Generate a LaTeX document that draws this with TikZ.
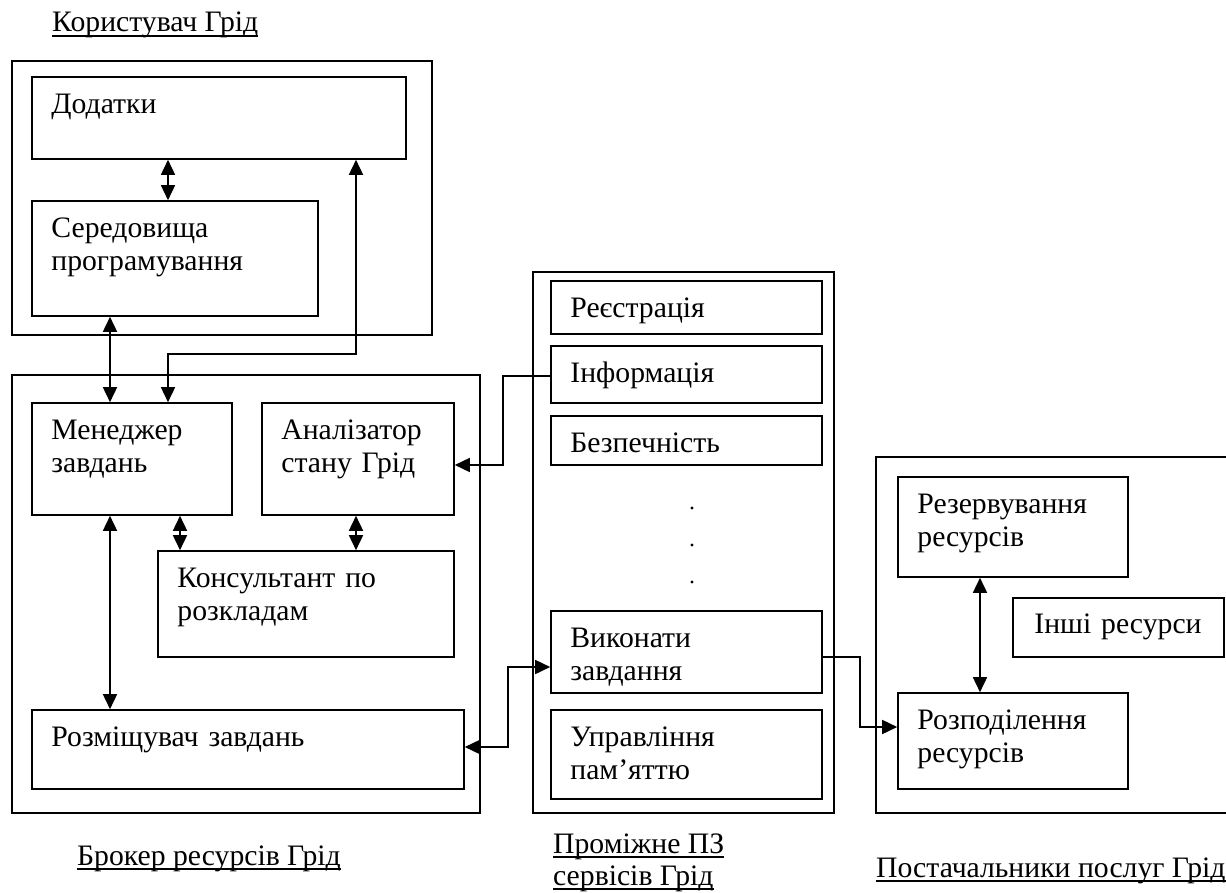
\documentclass[tikz,border=0pt]{standalone}
\usepackage{fontspec}
\setmainfont{Liberation Serif}
\usetikzlibrary{arrows.meta,fit,calc}
\newcommand\gbox[6]{%
  \node[box, fit={(#2,#3) (#4,#5)}] (#1) {};
  \node[lbl] (#1t) at ($(#1.north west)+(20,37)$) {#6};}
\begin{document}
\begin{tikzpicture}[x=1pt,y=-1pt,
  box/.style={draw, line width=1.6pt, inner sep=0pt, rectangle},
  lbl/.style={font=\fontsize{29.7}{33}\selectfont, inner sep=0pt, text width=330pt, align=left, anchor=base west},
  ttl/.style={font=\fontsize{29.7}{33}\selectfont, inner sep=0pt, anchor=base west},
  ul/.style={line width=1.4pt},
  con/.style={line width=1.6pt},
  arr/.style={con, -{Triangle[length=15pt,width=14pt]}},
  dbl/.style={con, {Triangle[length=15pt,width=14pt]}-{Triangle[length=15pt,width=14pt]}},
]
\useasboundingbox (0,0) rectangle (1226,893);
\fill[white] (0,0) rectangle (1226,893);

% outer groups
\node[box, fit={(12,61) (432,335)}] (user) {};
\node[box, fit={(12,375) (480,813)}] (broker) {};
\node[box, fit={(533,272) (834,813)}] (mid) {};
\node[box, fit={(876,457) (1240,813)}] (prov) {};

% inner boxes
\gbox{dod}{32}{77}{406}{159}{Додатки}
\gbox{ser}{32}{201}{318}{316}{Середовища\\програмування}
\gbox{men}{32}{403}{232}{515}{Менеджер\\завдань}
\gbox{anl}{262}{403}{454}{515}{Аналізатор\\стану Грід}
\gbox{kon}{158}{551}{454}{657}{Консультант по\\розкладам}
\gbox{roz}{32}{710}{464}{789}{Розміщувач завдань}
\gbox{reg}{551}{281}{822}{334}{Реєстрація}
\gbox{inf}{551}{346}{822}{403}{Інформація}
\gbox{bez}{551}{416}{822}{465}{Безпечність}
\gbox{vyk}{551}{611}{822}{693}{Виконати\\завдання}
\gbox{upr}{551}{710}{822}{799}{Управління\\пам’яттю}
\gbox{rez}{898}{477}{1128}{577}{Резервування\\ресурсів}
\node[box, fit={(1013,598) (1224,657)}] (inshi) {};
\node[lbl] (inshit) at ($(inshi.north west)+(22,36)$) {Інші ресурси};
\gbox{rozp}{898}{693}{1128}{789}{Розподілення\\ресурсів}

% dots
\fill (692,508) circle (1.7);
\fill (692,545) circle (1.7);
\fill (692,582) circle (1.7);

% helper coordinates
\coordinate (xa) at (168,0);
\coordinate (xb) at (110,0);
\coordinate (xc) at (356,0);
\coordinate (xd) at (180,0);
\coordinate (xe) at (980,0);
\coordinate (yk) at (0,354);
\coordinate (p1) at (503,376);
\coordinate (p2) at (503,465);
\coordinate (q1) at (508,747);
\coordinate (q2) at (508,667);
\coordinate (r1) at (860,657);
\coordinate (r2) at (860,727);

% connectors
\draw[dbl] (dod.south -| xa) -- (ser.north -| xa);
\draw[dbl] (ser.south -| xb) -- (men.north -| xb);
\draw[dbl] (men.north -| xa) -- (xa |- yk) -- (xc |- yk) -- (dod.south -| xc);
\draw[dbl] (men.south -| xd) -- (kon.north -| xd);
\draw[dbl] (anl.south -| xc) -- (kon.north -| xc);
\draw[dbl] (men.south -| xb) -- (roz.north -| xb);
\draw[arr] (inf.west |- p1) -- (p1) -- (p2) -- (anl.east |- p2);
\draw[dbl] (roz.east |- q1) -- (q1) -- (q2) -- (vyk.west |- q2);
\draw[arr] (vyk.east |- r1) -- (r1) -- (r2) -- (rozp.west |- r2);
\draw[dbl] (rez.south -| xe) -- (rozp.north -| xe);

% titles
\node[ttl] (t1) at (52,32) {Користувач Грід};
\node[ttl] (t2) at (77,865) {Брокер ресурсів Грід};
\node[ttl] (t3) at (553,853) {Проміжне ПЗ};
\node[ttl] (t4) at (553,885) {сервісів Грід};
\node[ttl] (t5) at (876,877) {Постачальники послуг Грід};
\foreach \t in {t1,t2,t3,t4,t5}
  \draw[ul] ([yshift=-4pt]\t.base west) -- ([yshift=-4pt]\t.base east);
\end{tikzpicture}
\end{document}
